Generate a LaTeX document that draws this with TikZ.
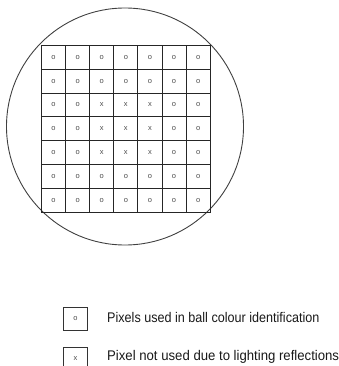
\documentclass[tikz,border=0pt]{standalone}
\usepackage{fontspec}
\setmainfont{Liberation Sans}
\begin{document}
\begin{tikzpicture}[x=1pt,y=-1pt,
  cell/.style={draw=black!85,line width=1pt,minimum width=24.1pt,minimum height=23.8pt,inner sep=0pt,anchor=north west,font=\fontsize{7.5}{7.5}\selectfont,text=black!70},
  ring/.style={draw=black!75,line width=0.9pt,circle,minimum size=237pt,inner sep=0pt},
  legbox/.style={draw=black!80,line width=0.8pt,minimum width=24pt,minimum height=23pt,inner sep=0pt,anchor=north west,font=\fontsize{7.5}{7.5}\selectfont,text=black!70},
  legtext/.style={anchor=west,inner sep=0pt,font=\fontsize{14}{14}\selectfont,text=black!90}]
\useasboundingbox (0,0) rectangle (339,366);
\node[ring] (ball) at (125,126.5) {};
\foreach \r in {1,...,7}{
  \foreach \c in {1,...,7}{
    \pgfmathtruncatemacro{\isx}{(\r>=3)&&(\r<=5)&&(\c>=3)&&(\c<=5)}
    \ifnum\isx=1
      \node[cell] (c\r\c) at ({41+24.1*(\c-1)},{45+23.8*(\r-1)}) {x};
    \else
      \node[cell] (c\r\c) at ({41+24.1*(\c-1)},{45+23.8*(\r-1)}) {o};
    \fi
  }
}
\node[legbox] (k1) at (63,307) {o};
\node[legbox] (k2) at (63,347) {x};
\node[legtext] (t1) at (107,317) {\scalebox{0.9}[1]{Pixels used in ball colour identification}};
\node[legtext] (t2) at (107,357) {\scalebox{0.94}[1]{Pixel not used due to lighting reflections}};
\end{tikzpicture}
\end{document}
